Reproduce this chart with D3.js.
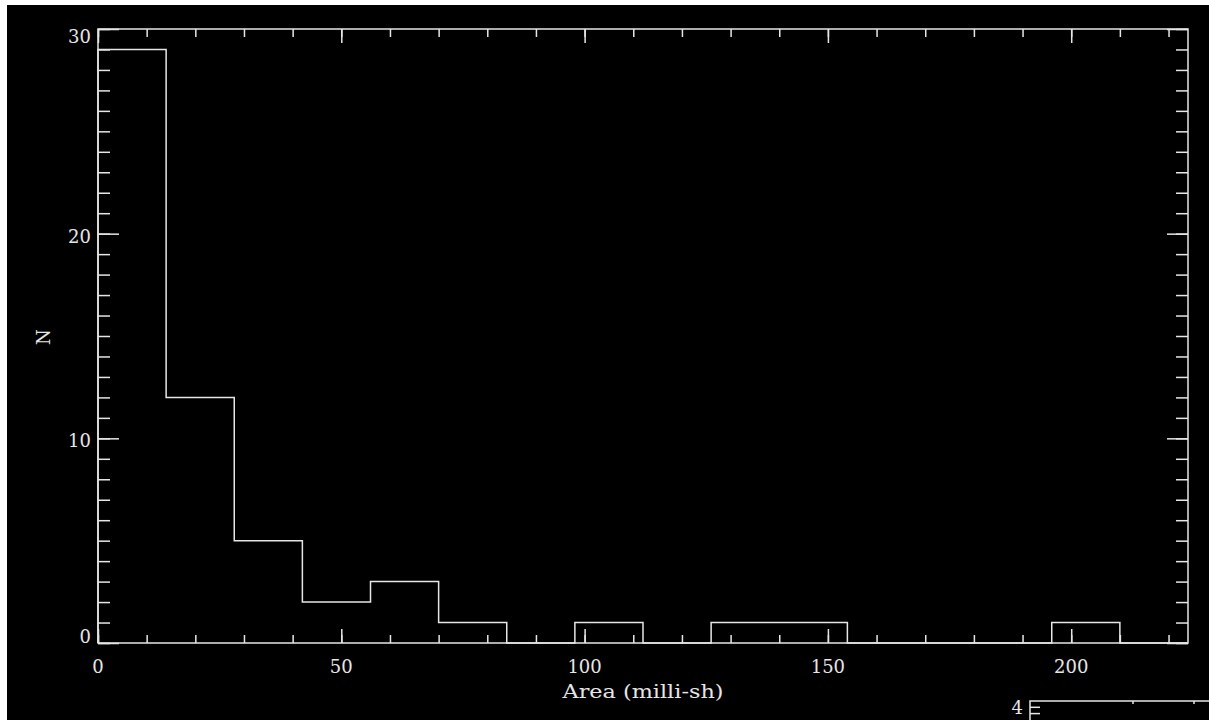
<!DOCTYPE html>
<html>
<head>
<meta charset="utf-8">
<script src="https://cdn.jsdelivr.net/npm/d3@7"></script>
<style>
  html, body { margin: 0; padding: 0; background: #ffffff; }
  svg { display: block; }
  text { font-family: "DejaVu Serif", serif; fill: #e6e6e6; }
</style>
</head>
<body>
<svg id="chart" width="1209" height="720"></svg>
<script>
// ---- data ----
const binStart = 0;
const binWidth = 14;
const counts = [29, 12, 5, 2, 3, 1, 0, 1, 0, 1, 1, 0, 0, 0, 1, 0];
const xDomain = [0, 224];
const yDomain = [0, 30];
const xMajorTicks = [0, 50, 100, 150, 200];
const xMinorTicks = d3.range(0, 225, 10);
const yMajorTicks = [0, 10, 20, 30];
const yMinorTicks = d3.range(0, 31, 1);
const xTitle = "Area (milli-sh)";
const yTitle = "N";
// partial second panel visible at the bottom-right
const panel2YTop = 4;
const panel2YMinor = [4, 3.5, 3];

const fg = "#e6e6e6";
const svg = d3.select("#chart");

// black plotting canvas (white margin at top/left)
svg.append("rect").attr("x", 7).attr("y", 5).attr("width", 1202).attr("height", 715).attr("fill", "#000");

const L = 98, R = 1188, T = 29, B = 643;
const x = d3.scaleLinear().domain(xDomain).range([L, R]);
const y = d3.scaleLinear().domain(yDomain).range([B, T]);

const g = svg.append("g");

function styleAxis(sel) {
  sel.select(".domain").remove();
  sel.selectAll("line").attr("stroke", fg).attr("stroke-width", 1.5);
}

// bottom axis ticks (inward)
g.append("g").attr("transform", `translate(0,${B})`)
  .call(d3.axisBottom(x).tickValues(xMinorTicks).tickSizeInner(-8).tickSizeOuter(0).tickFormat(""))
  .call(styleAxis);
g.append("g").attr("transform", `translate(0,${B})`)
  .call(d3.axisBottom(x).tickValues(xMajorTicks).tickSizeInner(-14).tickSizeOuter(0).tickFormat(""))
  .call(styleAxis);
// top axis ticks
g.append("g").attr("transform", `translate(0,${T})`)
  .call(d3.axisTop(x).tickValues(xMinorTicks).tickSizeInner(-8).tickSizeOuter(0).tickFormat(""))
  .call(styleAxis);
g.append("g").attr("transform", `translate(0,${T})`)
  .call(d3.axisTop(x).tickValues(xMajorTicks).tickSizeInner(-14).tickSizeOuter(0).tickFormat(""))
  .call(styleAxis);
// left axis ticks
g.append("g").attr("transform", `translate(${L},0)`)
  .call(d3.axisLeft(y).tickValues(yMinorTicks).tickSizeInner(-12).tickSizeOuter(0).tickFormat(""))
  .call(styleAxis);
g.append("g").attr("transform", `translate(${L},0)`)
  .call(d3.axisLeft(y).tickValues(yMajorTicks).tickSizeInner(-21).tickSizeOuter(0).tickFormat(""))
  .call(styleAxis);
// right axis ticks
g.append("g").attr("transform", `translate(${R},0)`)
  .call(d3.axisRight(y).tickValues(yMinorTicks).tickSizeInner(-12).tickSizeOuter(0).tickFormat(""))
  .call(styleAxis);
g.append("g").attr("transform", `translate(${R},0)`)
  .call(d3.axisRight(y).tickValues(yMajorTicks).tickSizeInner(-21).tickSizeOuter(0).tickFormat(""))
  .call(styleAxis);

// frame
g.append("rect").attr("x", L).attr("y", T).attr("width", R - L).attr("height", B - T)
  .attr("fill", "none").attr("stroke", fg).attr("stroke-width", 1.5);

// tick labels
g.selectAll(".xl").data(xMajorTicks).enter().append("text")
  .attr("x", d => x(d)).attr("y", B + 30)
  .attr("text-anchor", "middle").attr("font-size", 18).text(d => d);

g.selectAll(".yl").data(yMajorTicks).enter().append("text")
  .attr("x", L - 7)
  .attr("y", (d, i) => {
    if (i === 0) return y(d);
    if (i === yMajorTicks.length - 1) return y(d) + 14;
    return y(d) + 9;
  })
  .attr("text-anchor", "end").attr("font-size", 18).text(d => d);

// axis titles
g.append("text").attr("x", (L + R) / 2).attr("y", 698)
  .attr("text-anchor", "middle").attr("font-size", 18)
  .attr("textLength", 161).attr("lengthAdjust", "spacingAndGlyphs")
  .text(xTitle);
g.append("text").attr("transform", `translate(50,${(T + B) / 2 + 1}) rotate(-90)`)
  .attr("text-anchor", "middle").attr("font-size", 18).text(yTitle);

// histogram outline (step)
const pts = [[xDomain[0], 0]];
counts.forEach((c, i) => {
  const x0 = binStart + i * binWidth, x1 = x0 + binWidth;
  pts.push([x0, c], [x1, c]);
});
pts.push([binStart + counts.length * binWidth, 0]);
g.append("path")
  .attr("d", d3.line().x(d => x(d[0])).y(d => y(d[1]))(pts))
  .attr("fill", "none").attr("stroke", fg).attr("stroke-width", 1.5);

// partial second panel (bottom-right)
const p2L = 1030, p2T = 701;
const y2 = d3.scaleLinear().domain([panel2YTop - 1, panel2YTop]).range([p2T + 12.6, p2T]);
const g2 = svg.append("g");
g2.append("path").attr("d", `M${p2L},722 L${p2L},${p2T} L1212,${p2T}`)
  .attr("fill", "none").attr("stroke", fg).attr("stroke-width", 1.5);
g2.selectAll("line.t").data(panel2YMinor.slice(1)).enter().append("line")
  .attr("x1", p2L).attr("x2", p2L + 10).attr("y1", d => y2(d)).attr("y2", d => y2(d))
  .attr("stroke", fg).attr("stroke-width", 1.5);
g2.selectAll("line.u").data([1133, 1194]).enter().append("line")
  .attr("x1", d => d).attr("x2", d => d).attr("y1", p2T).attr("y2", p2T + 3)
  .attr("stroke", fg).attr("stroke-width", 1.5);
g2.append("text").attr("x", p2L - 7).attr("y", 714)
  .attr("text-anchor", "end").attr("font-size", 18).text(panel2YTop);
</script>
</body>
</html>
